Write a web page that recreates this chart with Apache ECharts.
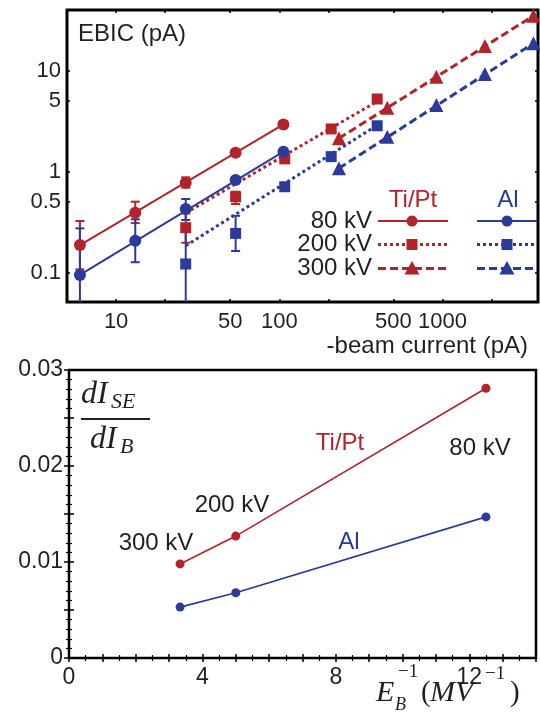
<!DOCTYPE html>
<html><head><meta charset="utf-8">
<script src="https://cdn.jsdelivr.net/npm/echarts@6/dist/echarts.min.js"></script>
<style>html,body{margin:0;padding:0;background:#fff}#c{width:540px;height:717px}</style>
</head><body><div id="c"></div>
<script>
// ---------- Top panel: EBIC (pA) vs -beam current (pA) ----------
const tiPt80 = [[6.0,0.188],[13.1,0.393],[26.7,0.778],[54,1.54],[106,2.94]];
const al80   = [[6.0,0.095],[13.1,0.207],[26.7,0.427],[54,0.828],[106,1.58]];
const tiPt200 = [[26.7,0.279],[54,0.565],[108,1.34],[208,2.65],[398,5.25]];
const al200   = [[26.7,0.122],[54,0.245],[108,0.71],[208,1.41],[398,2.85]];
const tiPt300 = [[232,2.14],[459,4.3],[918,8.72],[1820,17.6],[3610,35]];
const al300   = [[232,1.08],[459,2.22],[918,4.57],[1820,9.27],[3610,18.7]];
// fitted lines (end points)
const tiPt80Fit  = [[6.0,0.188],[106,2.94]];
const al80Fit    = [[6.0,0.095],[106,1.58]];
const tiPt200Fit = [[26.7,0.39],[400,5.0]];
const al200Fit   = [[26.7,0.185],[400,2.9]];
const tiPt300Fit = [[232,2.14],[3610,35]];
const al300Fit   = [[232,1.08],[3610,18.7]];
// error bars [x, low, high]
const tiPt80Err  = [[6.0,0.108,0.325],[13.1,0.31,0.505],[26.7,0.695,0.88]];
const al80Err    = [[6.0,0.01,0.275],[13.1,0.127,0.338],[26.7,0.333,0.537]];
const tiPt200Err = [[26.7,0.198,0.387],[54,0.479,0.634]];
const al200Err   = [[26.7,0.01,0.275],[54,0.164,0.366]];
const topXTicks = [10,50,100,500,1000];
const topXMinor = [10,20,50,100,200,500,1000,2000];
const topYTicks = [0.1,0.5,1,5,10];

// ---------- Bottom panel: dI_SE/dI_B vs 1/E_B ----------
const invE = [3.33, 5.0, 12.5];
const tiPtSlope = [0.0098, 0.0127, 0.0281];
const alSlope   = [0.0053, 0.0068, 0.0147];

const RED = '#b3232a', BLUE = '#2b3a9b', TXT = '#231f20';
const FONT = "'Liberation Sans', Arial, Helvetica, sans-serif";
const SERIF = "'Liberation Serif', 'Times New Roman', serif";

function errItem(params, api){
  const x = api.value(0), lo = api.value(1), hi = api.value(2);
  const a = api.coord([x,hi]), b = api.coord([x,lo]);
  const st = {stroke: api.visual('color'), lineWidth: 2};
  const w = 4.5;
  return {type:'group', children:[
    {type:'line', shape:{x1:a[0],y1:a[1],x2:b[0],y2:b[1]}, style:st},
    {type:'line', shape:{x1:a[0]-w,y1:a[1],x2:a[0]+w,y2:a[1]}, style:st},
    {type:'line', shape:{x1:b[0]-w,y1:b[1],x2:b[0]+w,y2:b[1]}, style:st}
  ]};
}

const logX = (pos, show) => ({
  type:'log', gridIndex:0, position:pos, min:5, max:3850, logBase:10,
  axisLine:{show:false}, splitLine:{show:false}, minorTick:{show:false},
  axisTick:{show:true, inside:true, length:3, lineStyle:{color:'#000', width:1.5}, customValues: topXMinor},
  axisLabel:{show:show, customValues: topXTicks, color:TXT, fontFamily:FONT, fontSize:22, margin:9,
    formatter: v => String(Math.round(v))}
});
const logY = (pos, show) => ({
  type:'log', gridIndex:0, position:pos, min:0.0513, max:39.9, logBase:10,
  axisLine:{show:false}, splitLine:{show:false}, minorTick:{show:false},
  axisTick:{show:true, inside:true, length:3, lineStyle:{color:'#000', width:1.5}, customValues: topYTicks},
  axisLabel:{show:show, customValues: topYTicks, color:TXT, fontFamily:FONT, fontSize:22, margin:6,
    formatter: v => String(Math.round(v*10)/10)}
});
const linX = (pos, show) => ({
  type:'value', gridIndex:1, position:pos, min:0, max:14, interval:1,
  axisLine:{show:false}, splitLine:{show:false},
  axisTick:{show:true, inside:true, length:4, lineStyle:{color:'#000', width:1.5}},
  minorTick:{show:true, splitNumber:2, length:3, lineStyle:{color:'#000', width:1.2}},
  axisLabel:{show:show, color:TXT, fontFamily:FONT, fontSize:23, margin:8, showMaxLabel:false,
    formatter: v => (Math.round(v) % 4 === 0 ? String(Math.round(v)) : '')}
});
const linY = (pos, show) => ({
  type:'value', gridIndex:1, position:pos, min:0, max:0.03, interval:0.005,
  axisLine:{show:false}, splitLine:{show:false},
  axisTick:{show:true, inside:true, length:5, lineStyle:{color:'#000', width:1.5}},
  minorTick:{show:true, splitNumber:5, length:3, lineStyle:{color:'#000', width:1.2}},
  axisLabel:{show:show, color:TXT, fontFamily:FONT, fontSize:23, margin:6,
    formatter: v => { const k = Math.round(v*1000); return k % 10 === 0 ? (k === 0 ? '0' : (k/1000).toFixed(2)) : ''; }}
});

function fit(data, color, dash, w){
  return {type:'line', xAxisIndex:0, yAxisIndex:0, data:data, symbol:'none', silent:true,
    lineStyle:{color:color, width:w, type:dash}, z:2};
}
function pts(data, color, sym, size){
  return {type:'scatter', xAxisIndex:0, yAxisIndex:0, data:data, symbol:sym, symbolSize:size,
    itemStyle:{color:color, opacity:1}, z:4};
}
function errs(data, color){
  return {type:'custom', xAxisIndex:0, yAxisIndex:0, data:data, renderItem:errItem, clip:true,
    itemStyle:{color:color}, z:3};
}

// legend drawing (decoration)
const legendG = [];
function txt(x,y,s,opt){ return {type:'text', x:x, y:y, style:Object.assign({text:s, fill:TXT, font:'24px '+FONT, textAlign:'center', textVerticalAlign:'middle'}, opt||{})}; }
function mtxt(x,y,s,font){ return {type:'text', x:x, y:y, style:{text:s, font:font, fill:TXT, textVerticalAlign:'middle'}}; }
legendG.push(txt(413,200,'Ti/Pt',{fill:RED}));
legendG.push(txt(508,200,'Al',{fill:BLUE}));
const rows = [{y:221,label:'80 kV',dash:null,w:2,sym:'circle'},{y:244.5,label:'200 kV',dash:[3,3],w:3,sym:'rect'},{y:268.5,label:'300 kV',dash:[8,4],w:3,sym:'tri'}];
rows.forEach(r=>{
  legendG.push(txt(372,r.y,r.label,{textAlign:'right'}));
  [[RED,378,448,412],[BLUE,477,537,507]].forEach(c=>{
    legendG.push({type:'line', shape:{x1:c[1],y1:r.y,x2:c[2],y2:r.y}, style:{stroke:c[0], lineWidth:r.w, lineDash:r.dash}});
    if(r.sym==='circle') legendG.push({type:'circle', shape:{cx:c[3],cy:r.y,r:5.5}, style:{fill:c[0]}});
    else if(r.sym==='rect') legendG.push({type:'rect', shape:{x:c[3]-5.5,y:r.y-5.5,width:11,height:11}, style:{fill:c[0]}});
    else legendG.push({type:'polygon', shape:{points:[[c[3],r.y-7.5],[c[3]+7.5,r.y+6],[c[3]-7.5,r.y+6]]}, style:{fill:c[0]}});
  });
});

const annot = [
  txt(78,34,'EBIC (pA)',{textAlign:'left'}),
  txt(528,346,'-beam current (pA)',{textAlign:'right'}),
  txt(156,543,'300 kV'),
  txt(232,505,'200 kV'),
  txt(340,443,'Ti/Pt',{fill:RED}),
  txt(480,448,'80 kV'),
  txt(349,542,'Al',{fill:BLUE}),
  // dI_SE / dI_B
  mtxt(81,395,'dI','italic 32px '+SERIF),
  mtxt(111,402,'SE','italic 22px '+SERIF),
  {type:'line', shape:{x1:81,y1:419,x2:150,y2:419}, style:{stroke:TXT, lineWidth:2}},
  mtxt(90,440,'dI','italic 32px '+SERIF),
  mtxt(120,447,'B','italic 22px '+SERIF),
  // E_B^-1 (MV^-1)
  mtxt(376,693,'E','italic 30px '+SERIF),
  mtxt(398,672,'\u22121','19px '+SERIF),
  mtxt(395,705,'B','italic 18px '+SERIF),
  mtxt(421,693,'(','29px '+SERIF),
  mtxt(430,693,'MV','italic 30px '+SERIF),
  mtxt(485,674,'\u22121','19px '+SERIF),
  mtxt(510,693,')','29px '+SERIF)
];

const option = {
  animation:false,
  backgroundColor:'#fff',
  textStyle:{fontFamily:FONT},
  grid:[
    {left:67, top:10, width:471, height:292, show:true, borderColor:'#000', borderWidth:3, backgroundColor:'transparent'},
    {left:69, top:370, width:467, height:288, show:true, borderColor:'#000', borderWidth:2.5, backgroundColor:'transparent'}
  ],
  xAxis:[logX('bottom',true), logX('top',false), linX('bottom',true), linX('top',false)],
  yAxis:[logY('left',true), logY('right',false), linY('left',true), linY('right',false)],
  series:[
    fit(tiPt80Fit, RED, 'solid', 2),
    fit(tiPt200Fit, RED, [3,3], 3),
    fit(tiPt300Fit, RED, [8,4], 3),
    errs(tiPt80Err, RED), errs(tiPt200Err, RED),
    pts(tiPt80, RED, 'circle', 12),
    pts(tiPt200, RED, 'rect', 11),
    pts(tiPt300, RED, 'triangle', 14),
    fit(al80Fit, BLUE, 'solid', 2),
    fit(al200Fit, BLUE, [3,3], 3),
    fit(al300Fit, BLUE, [8,4], 3),
    errs(al80Err, BLUE), errs(al200Err, BLUE),
    pts(al80, BLUE, 'circle', 12),
    pts(al200, BLUE, 'rect', 11),
    pts(al300, BLUE, 'triangle', 14),
    {type:'line', xAxisIndex:2, yAxisIndex:2, data:invE.map((x,i)=>[x,tiPtSlope[i]]), symbol:'circle', symbolSize:9,
      itemStyle:{color:RED}, lineStyle:{color:RED, width:1.6}},
    {type:'line', xAxisIndex:2, yAxisIndex:2, data:invE.map((x,i)=>[x,alSlope[i]]), symbol:'circle', symbolSize:9,
      itemStyle:{color:BLUE}, lineStyle:{color:BLUE, width:1.6}}
  ],
  graphic: legendG.concat(annot)
};
const chart = echarts.init(document.getElementById('c'), null, {renderer:'canvas'});
chart.setOption(option);
</script>
</body></html>
